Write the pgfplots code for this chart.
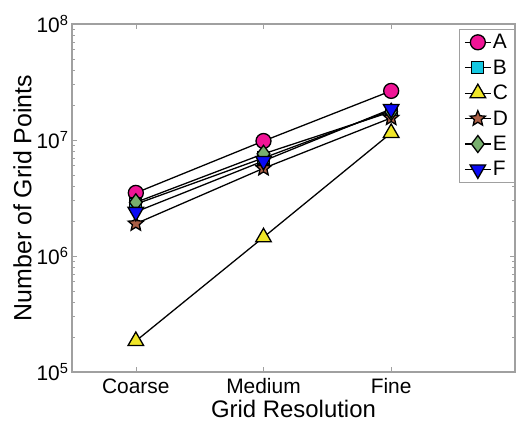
\documentclass[border=0pt]{standalone}
\usepackage{fontspec}
\setmainfont{Liberation Sans}
\usepackage{pgfplots}
\pgfplotsset{compat=1.18}

\definecolor{cA}{RGB}{240,20,150}
\definecolor{cB}{RGB}{20,200,225}
\definecolor{cC}{RGB}{240,230,40}
\definecolor{cD}{RGB}{170,95,70}
\definecolor{cE}{RGB}{120,175,110}
\definecolor{cF}{RGB}{10,10,245}
\definecolor{axgray}{RGB}{160,160,160}

% filled five-pointed star
\pgfdeclareplotmark{fstar}{%
  \pgfpathmoveto{\pgfqpointpolar{90}{\pgfplotmarksize}}%
  \pgfpathlineto{\pgfqpointpolar{126}{0.45\pgfplotmarksize}}%
  \pgfpathlineto{\pgfqpointpolar{162}{\pgfplotmarksize}}%
  \pgfpathlineto{\pgfqpointpolar{198}{0.45\pgfplotmarksize}}%
  \pgfpathlineto{\pgfqpointpolar{234}{\pgfplotmarksize}}%
  \pgfpathlineto{\pgfqpointpolar{270}{0.45\pgfplotmarksize}}%
  \pgfpathlineto{\pgfqpointpolar{306}{\pgfplotmarksize}}%
  \pgfpathlineto{\pgfqpointpolar{342}{0.45\pgfplotmarksize}}%
  \pgfpathlineto{\pgfqpointpolar{18}{\pgfplotmarksize}}%
  \pgfpathlineto{\pgfqpointpolar{54}{0.45\pgfplotmarksize}}%
  \pgfpathclose
  \pgfusepathqfillstroke
}

\begin{document}
\begin{tikzpicture}
\begin{axis}[
  scale only axis,
  width=443bp, height=348bp,
  ymode=log,
  ymin=1e5, ymax=1e8,
  xmin=0.5, xmax=3.97,
  xtick={1,2,3},
  xticklabels={Coarse,Medium,Fine},
  ytick={1e5,1e6,1e7,1e8},
  yticklabels={10\textsuperscript{5},10\textsuperscript{6},10\textsuperscript{7},10\textsuperscript{8}},
  axis line style={axgray, line width=1.2pt},
  every tick/.style={axgray, line width=0.6pt},
  tick align=inside,
  major tick length=5bp,
  minor tick length=3bp,
  tick label style={font=\fontsize{21}{24}\selectfont},
  xlabel={Grid Resolution},
  ylabel={Number of Grid Points},
  xlabel style={font=\fontsize{24}{28}\selectfont, yshift=1bp},
  ylabel style={font=\fontsize{25}{29}\selectfont, yshift=-2bp},
  xticklabel style={yshift=-3bp},
  legend style={
    at={(1,1)}, anchor=north east, xshift=0bp, yshift=-5bp,
    draw=axgray, line width=0.8pt,
    font=\fontsize{21}{23}\selectfont,
    row sep=5.5bp, inner xsep=5bp, inner ysep=3bp,
    legend cell align=left,
    nodes={inner xsep=1.5bp},
  },
  legend image code/.code={
    \draw[line width=1.3pt] (0bp,0bp) -- (26bp,0bp);
    \draw plot[mark repeat=1] coordinates {(13bp,0bp)};
  },
  every axis plot/.append style={black, line width=1.3pt, mark options={draw=black, line width=0.9pt, solid}},
]
\addplot[mark=*, mark size=7.5bp, mark options={fill=cA}] coordinates {(1,3.5e6) (2,9.8e6) (3,2.65e7)};
\addlegendentry{A}
\addplot[mark=square*, mark size=6bp, mark options={fill=cB}] coordinates {(1,2.8e6) (2,7.0e6) (3,1.8e7)};
\addlegendentry{B}
\addplot[mark=triangle*, mark size=9bp, mark options={fill=cC}] coordinates {(1,1.85e5) (2,1.45e6) (3,1.15e7)};
\addlegendentry{C}
\addplot[mark=fstar, mark size=8bp, mark options={fill=cD}] coordinates {(1,1.9e6) (2,5.7e6) (3,1.55e7)};
\addlegendentry{D}
\addplot[mark=diamond*, mark size=8.5bp, mark options={fill=cE}] coordinates {(1,2.9e6) (2,7.6e6) (3,1.75e7)};
\addlegendentry{E}
\addplot[mark=triangle*, mark size=9bp, mark options={fill=cF, rotate=180}] coordinates {(1,2.4e6) (2,6.6e6) (3,1.85e7)};
\addlegendentry{F}
\end{axis}
\pgfresetboundingbox
\path[use as bounding box] (current axis.south west) ++(-72bp,-51bp) rectangle ++(517bp,423bp);
\end{tikzpicture}
\end{document}
